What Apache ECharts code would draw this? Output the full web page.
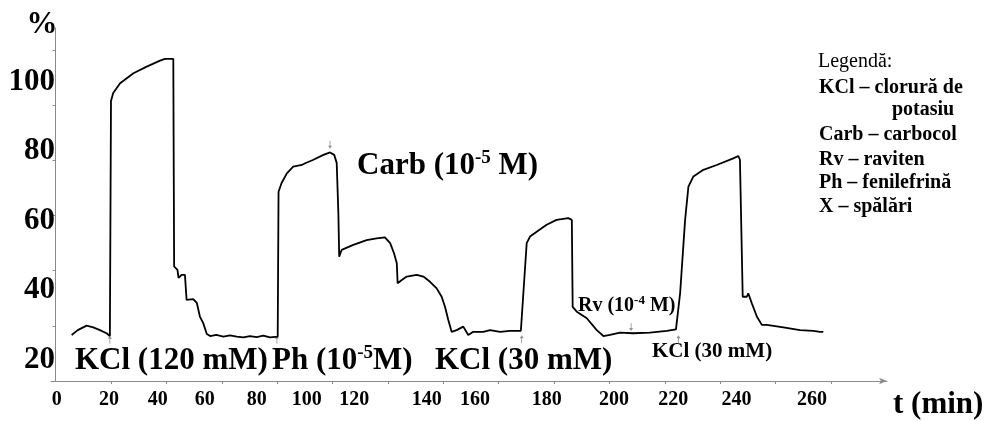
<!DOCTYPE html>
<html>
<head>
<meta charset="utf-8">
<script src="https://cdn.jsdelivr.net/npm/echarts@6/dist/echarts.min.js"></script>
<style>
  html, body { margin: 0; padding: 0; background: #fff; }
  #chart { width: 984px; height: 421px; }
</style>
</head>
<body>
<div id="chart"></div>
<script>
// recording of the strip (time in minutes, contraction in %)
const minutes = [
  5.8, 8.0, 11.2, 13.6, 16.0, 18.4, 19.6, 20.0, 20.8, 23.3, 28.1, 32.9, 37.7, 39.5, 42.5,
  42.8, 44.0, 44.4, 45.5, 46.7, 47.3, 49.7, 51.0, 52.1, 53.3, 54.6, 55.8, 58.0, 60.6, 63.0,
  65.4, 67.8, 70.2, 72.6, 75.0, 77.4, 80.2, 80.5, 81.6, 83.5, 85.8, 88.9, 90.1, 93.1, 96.7,
  99.1, 100.6, 101.5, 102.1, 102.4, 103.3, 107.5, 112.3, 115.9, 118.9, 120.8, 122.2, 123.2, 123.5, 125.0,
  126.8, 130.4, 132.8, 135.2, 137.6, 139.4, 140.6, 141.8, 143.0, 144.8, 147.2, 149.0, 150.8, 154.4, 156.9,
  160.5, 164.0, 168.0, 170.1, 171.3, 173.7, 177.3, 180.9, 185.1, 186.4, 186.7, 188.2, 191.8, 195.4, 197.8,
  200.2, 203.8, 208.6, 214.6, 220.7, 224.0, 225.5, 227.3, 228.5, 230.3, 233.9, 238.7, 244.7, 246.5, 247.1,
  248.1, 249.6, 250.1, 251.4, 253.2, 255.0, 256.8, 262.8, 268.8, 273.6, 276.0, 277.2
];
const contraction = [
  27.2, 28.6, 29.9, 29.4, 28.6, 27.7, 26.9, 94.5, 96.8, 99.6, 102.5, 104.4, 106.1, 106.6, 106.6,
  46.9, 45.9, 43.6, 44.5, 44.5, 37.3, 37.5, 36.4, 32.5, 30.6, 27.5, 26.9, 27.2, 26.7, 27.1,
  26.7, 26.5, 26.9, 26.6, 27.0, 26.5, 26.7, 68.4, 70.9, 73.7, 75.6, 76.1, 76.6, 77.6, 79.0,
  79.7, 79.0, 76.7, 62.3, 49.7, 51.7, 53.1, 54.5, 55.0, 55.3, 53.6, 50.7, 47.8, 42.1, 43.0,
  44.0, 44.5, 44.0, 42.5, 40.6, 38.2, 35.3, 31.5, 28.1, 28.6, 29.6, 27.2, 28.1, 28.1, 28.6,
  28.1, 28.4, 28.4, 53.6, 55.5, 56.9, 58.9, 60.3, 60.8, 60.3, 35.3, 33.9, 32.0, 28.6, 26.9,
  27.2, 27.9, 27.7, 27.9, 28.4, 28.8, 39.2, 60.3, 69.9, 72.8, 74.7, 76.1, 78.0, 78.7, 77.6,
  38.2, 38.2, 39.2, 36.3, 32.5, 30.1, 30.1, 29.4, 28.6, 28.4, 28.1, 28.1
];

// small arrows marking when a drug was added
const eventMinutes = [19.6, 79.9, 99.1, 168.3, 207.8, 224.9];
const eventLevels = [25.8, 25.8, 81.9, 26.0, 29.5, 26.0];
const eventUp = [true, true, false, true, false, true];

const xTickLabels = ['0', '20', '40', '60', '80', '100', '120', '140', '160', '180', '200', '220', '240', '260'];
const yTickLabels = [20, 40, 60, 80, 100];

// layout: where the scanned figure put its labels / ticks (in axis units)
const xLabelAt = [0.4, 19.3, 36.9, 53.9, 72.6, 90.7, 107.8, 134.0, 151.4, 177.3, 201.6, 223.0, 245.9, 273.1];
const xTickAt = [20, 40, 60, 80, 100, 120, 140, 160, 180, 200, 220, 240, 260, 280];
const yTickAt = [29.84, 45.72, 61.6, 77.48, 93.36, 109.24];

const serif = '"Liberation Serif", "DejaVu Serif", serif';
const axisGrey = '#8a8a8a';
const arrowPath = 'path://M5,0 L10,6 L6,6 L6,16 L4,16 L4,6 L0,6 Z';

function label(x, y, text, size, bold, align) {
  return {
    type: 'text',
    style: {
      x: x, y: y, text: text,
      fontFamily: serif, fontSize: size, fontWeight: bold ? 'bold' : 'normal',
      fill: '#000', textAlign: align || 'left', textVerticalAlign: 'middle'
    }
  };
}

function supLabel(x, y, text, size, supSize) {
  return {
    type: 'text',
    style: {
      x: x, y: y, text: text,
      fontFamily: serif, fontSize: size, fontWeight: 'bold', fill: '#000',
      textVerticalAlign: 'middle',
      rich: {
        b: { fontFamily: serif, fontSize: size, fontWeight: 'bold', fill: '#000', lineHeight: size * 1.15 },
        sup: { fontFamily: serif, fontSize: supSize, fontWeight: 'bold', fill: '#000', verticalAlign: 'top', lineHeight: size * 1.15 }
      }
    }
  };
}

const myChart = echarts.init(document.getElementById('chart'));
myChart.setOption({
  animation: false,
  backgroundColor: '#fff',
  grid: { left: 51, right: 97, top: 28, bottom: 40 },
  xAxis: {
    type: 'value',
    min: -1.66,
    max: 300.2,
    axisLine: { show: true, symbol: ['none', 'arrow'], symbolSize: [5, 8], lineStyle: { color: axisGrey, width: 1 } },
    axisTick: { show: true, customValues: xTickAt, length: 3, lineStyle: { color: axisGrey } },
    axisLabel: {
      customValues: xLabelAt,
      formatter: function (v) { return xTickLabels[xLabelAt.indexOf(v)]; },
      fontFamily: serif, fontSize: 20, fontWeight: 'bold', color: '#000', margin: 9
    },
    splitLine: { show: false }
  },
  yAxis: {
    type: 'value',
    min: 13.96,
    max: 115.5,
    axisLine: { show: true, lineStyle: { color: axisGrey, width: 1 } },
    axisTick: { show: true, customValues: yTickAt, length: 3, lineStyle: { color: axisGrey } },
    axisLabel: {
      customValues: yTickLabels,
      fontFamily: serif, fontSize: 31, fontWeight: 'bold', color: '#000', margin: -4
    },
    splitLine: { show: false }
  },
  series: [{
    type: 'line',
    data: minutes.map((t, i) => [t, contraction[i]]),
    showSymbol: false,
    lineStyle: { color: '#000', width: 1.8 },
    z: 3
  }, {
    type: 'scatter',
    data: eventMinutes.map((t, i) => ({
      value: [t, eventLevels[i]],
      symbolRotate: eventUp[i] ? 0 : 180
    })),
    symbol: arrowPath,
    symbolSize: [4, 8],
    itemStyle: { color: '#777' },
    z: 2
  }],
  graphic: [
    label(42, 25, '%', 31, true, 'center'),
    label(893, 405, 't (min)', 31, true),
    label(75, 361, 'KCl (120 mM)', 31, true),
    supLabel(272, 361, '{b|Ph (10}{sup|-5}{b|M)}', 31, 19),
    label(435, 361, 'KCl (30 mM)', 31, true),
    supLabel(357, 166, '{b|Carb (10}{sup|-5}{b| M)}', 31, 19),
    supLabel(578, 306, '{b|Rv (10}{sup|-4}{b| M)}', 20, 13),
    label(652, 352, 'KCl (30 mM)', 21, true),
    label(818, 62, 'Legendă:', 20, false),
    label(819, 88, 'KCl – clorură de', 20, true),
    label(892, 110, 'potasiu', 20, true),
    label(819, 135, 'Carb – carbocol', 20, true),
    label(819, 160, 'Rv – raviten', 20, true),
    label(819, 183, 'Ph – fenilefrină', 20, true),
    label(819, 207, 'X – spălări', 20, true)
  ]
});

window.addEventListener('resize', function () {
  myChart.resize();
});
</script>
</body>
</html>
